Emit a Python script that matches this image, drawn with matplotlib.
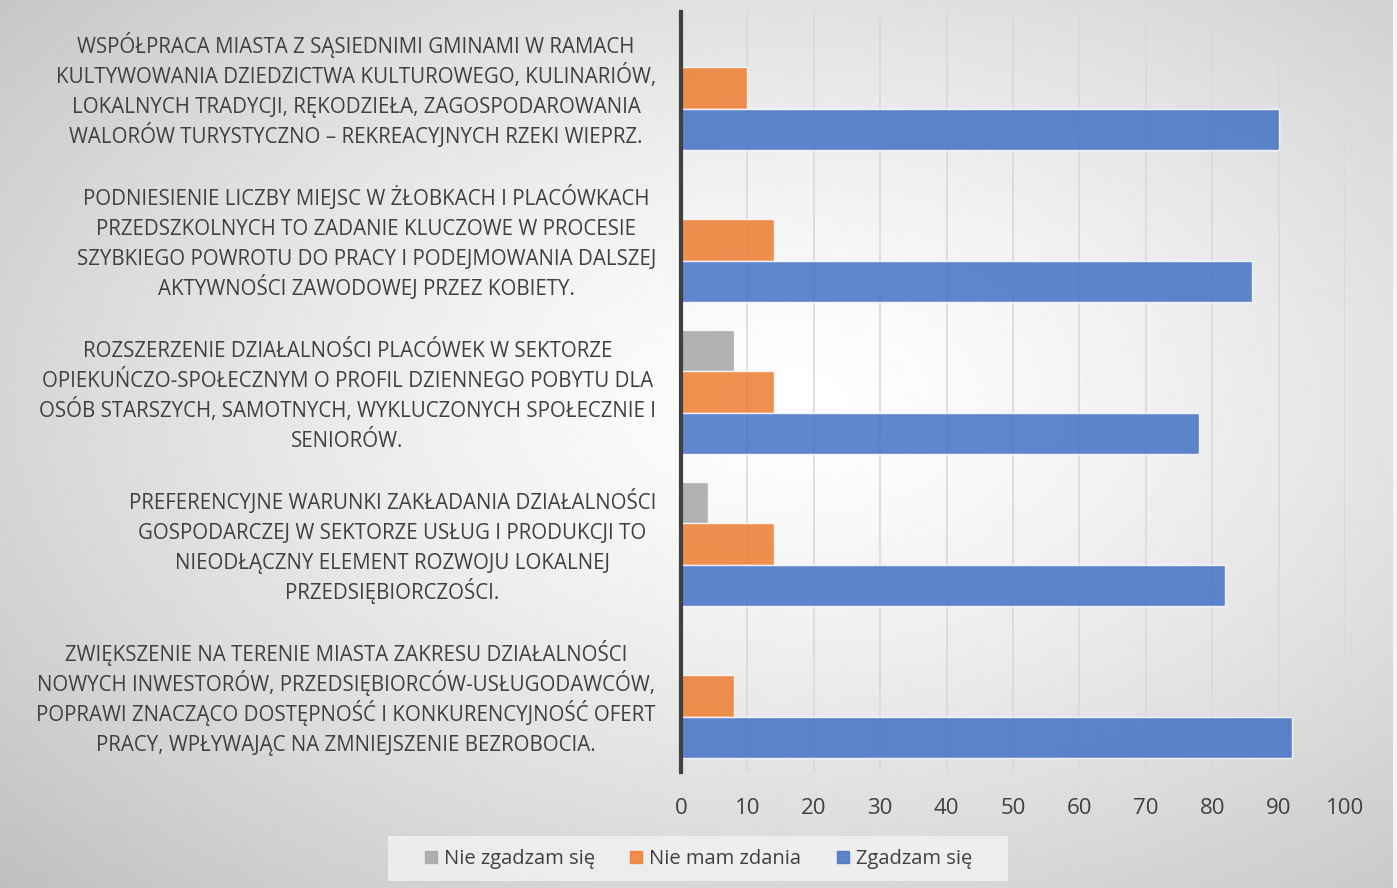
import matplotlib

matplotlib.use("Agg")
import matplotlib.pyplot as plt
import numpy as np
from matplotlib.patches import Patch, Rectangle

INK, GRID = "#404040", "#d9d9d9"
C_NO, C_NEUTRAL, C_YES = "#a5a5a5", "#ed7d31", "#4472c4"
W, H = 1397, 888

categories = [
    ["WSPÓŁPRACA MIASTA Z SĄSIEDNIMI GMINAMI W RAMACH",
     "KULTYWOWANIA DZIEDZICTWA KULTUROWEGO, KULINARIÓW,",
     "LOKALNYCH TRADYCJI, RĘKODZIEŁA, ZAGOSPODAROWANIA",
     "WALORÓW TURYSTYCZNO – REKREACYJNYCH RZEKI WIEPRZ."],
    ["PODNIESIENIE LICZBY MIEJSC W ŻŁOBKACH I PLACÓWKACH",
     "PRZEDSZKOLNYCH TO ZADANIE KLUCZOWE W PROCESIE",
     "SZYBKIEGO POWROTU DO PRACY I PODEJMOWANIA DALSZEJ",
     "AKTYWNOŚCI ZAWODOWEJ PRZEZ KOBIETY."],
    ["ROZSZERZENIE DZIAŁALNOŚCI PLACÓWEK W SEKTORZE",
     "OPIEKUŃCZO-SPOŁECZNYM O PROFIL DZIENNEGO POBYTU DLA",
     "OSÓB STARSZYCH, SAMOTNYCH, WYKLUCZONYCH SPOŁECZNIE I",
     "SENIORÓW."],
    ["PREFERENCYJNE WARUNKI ZAKŁADANIA DZIAŁALNOŚCI",
     "GOSPODARCZEJ W SEKTORZE USŁUG I PRODUKCJI TO",
     "NIEODŁĄCZNY ELEMENT ROZWOJU LOKALNEJ",
     "PRZEDSIĘBIORCZOŚCI."],
    ["ZWIĘKSZENIE NA TERENIE MIASTA ZAKRESU DZIAŁALNOŚCI",
     "NOWYCH INWESTORÓW, PRZEDSIĘBIORCÓW-USŁUGODAWCÓW,",
     "POPRAWI ZNACZĄCO DOSTĘPNOŚĆ I KONKURENCYJNOŚĆ OFERT",
     "PRACY, WPŁYWAJĄC NA ZMNIEJSZENIE BEZROBOCIA."],
]
series = ["Nie zgadzam się", "Nie mam zdania", "Zgadzam się"]
nie_zgadzam = [0, 0, 8, 4, 0]
nie_mam_zdania = [10, 14, 14, 14, 8]
zgadzam = [90, 86, 78, 82, 92]
xticks = list(range(0, 101, 10))

plt.rcParams["font.family"] = ["Open Sans", "DejaVu Sans"]

fig = plt.figure(figsize=(W / 100, H / 100), dpi=100)

# radial grey-to-white background
bg = fig.add_axes([0, 0, 1, 1], zorder=-10)
yy, xx = np.mgrid[0:H, 0:W]
r = np.hypot((xx - 800) / W, (yy - 400) / H)
r = r / r.max()
shade = 1.0 - 0.25 * np.clip(r, 0, 1) ** 1.3
bg.imshow(shade, cmap="gray", vmin=0, vmax=1, aspect="auto", interpolation="bilinear")
bg.set_xlim(0, W)
bg.set_ylim(H, 0)
bg.axis("off")
bg.add_patch(Rectangle((W - 4, 0), 4, H, color="#f4f4f4", lw=0))

ax = fig.add_axes([681 / W, 1 - 772 / H, 664 / W, 760 / H])
ax.patch.set_alpha(0)

n = len(categories)
pos = np.arange(n)[::-1].astype(float)
h = 0.27
for vals, col, off, lab in [(nie_zgadzam, C_NO, h, series[0]),
                            (nie_mam_zdania, C_NEUTRAL, 0, series[1]),
                            (zgadzam, C_YES, -h, series[2])]:
    ax.barh(pos + off, vals, height=h, color=col, alpha=0.85,
            edgecolor=(1, 1, 1, 0.6), lw=1.0, zorder=3, label=lab)

ax.set_xlim(0, 100)
ax.set_ylim(-0.5, n - 0.5)
ax.set_xticks(xticks)
ax.set_xticklabels([str(t) for t in xticks], fontsize=16, color=INK)
ax.tick_params(axis="x", length=0, pad=18.5)
ax.set_yticks([])
ax.grid(True, axis="x", color=GRID, lw=1.2, zorder=0)
for s in ("top", "right", "bottom"):
    ax.spines[s].set_visible(False)
ax.spines["left"].set_color(INK)
ax.spines["left"].set_linewidth(3)
ax.spines["left"].set_zorder(5)

# category labels: centred lines, block right-aligned against the axis
rend = fig.canvas.get_renderer()
RIGHT, STEP, DROP = 656, 30, 10
for p, lines in zip(pos, categories):
    cy = ax.transData.transform((0, p))[1]
    texts = []
    for i, line in enumerate(lines):
        off = (i - (len(lines) - 1) / 2) * STEP
        base = cy - off - DROP
        texts.append(fig.text(0, base / H, line, ha="center", va="baseline",
                              fontsize=14.8, color=INK))
    wmax = max(t.get_window_extent(rend).width for t in texts)
    for t in texts:
        t.set_x((RIGHT - wmax / 2) / W)

# legend with its own pale box
fig.patches.append(Rectangle((388 / W, 1 - 881 / H), 620 / W, 45 / H,
                             transform=fig.transFigure, color="#f5f5f5", alpha=0.75,
                             lw=0, zorder=0))
handles = [Patch(color=c, alpha=0.85) for c in (C_NO, C_NEUTRAL, C_YES)]
fig.legend(handles, series, loc="center", bbox_to_anchor=(0.5, 1 - 859 / H),
           ncol=3, frameon=False, fontsize=14.5, handlelength=0.6, handleheight=0.6,
           handletextpad=0.35, columnspacing=1.75, labelcolor=INK)

fig.savefig("out.png", dpi=100)
